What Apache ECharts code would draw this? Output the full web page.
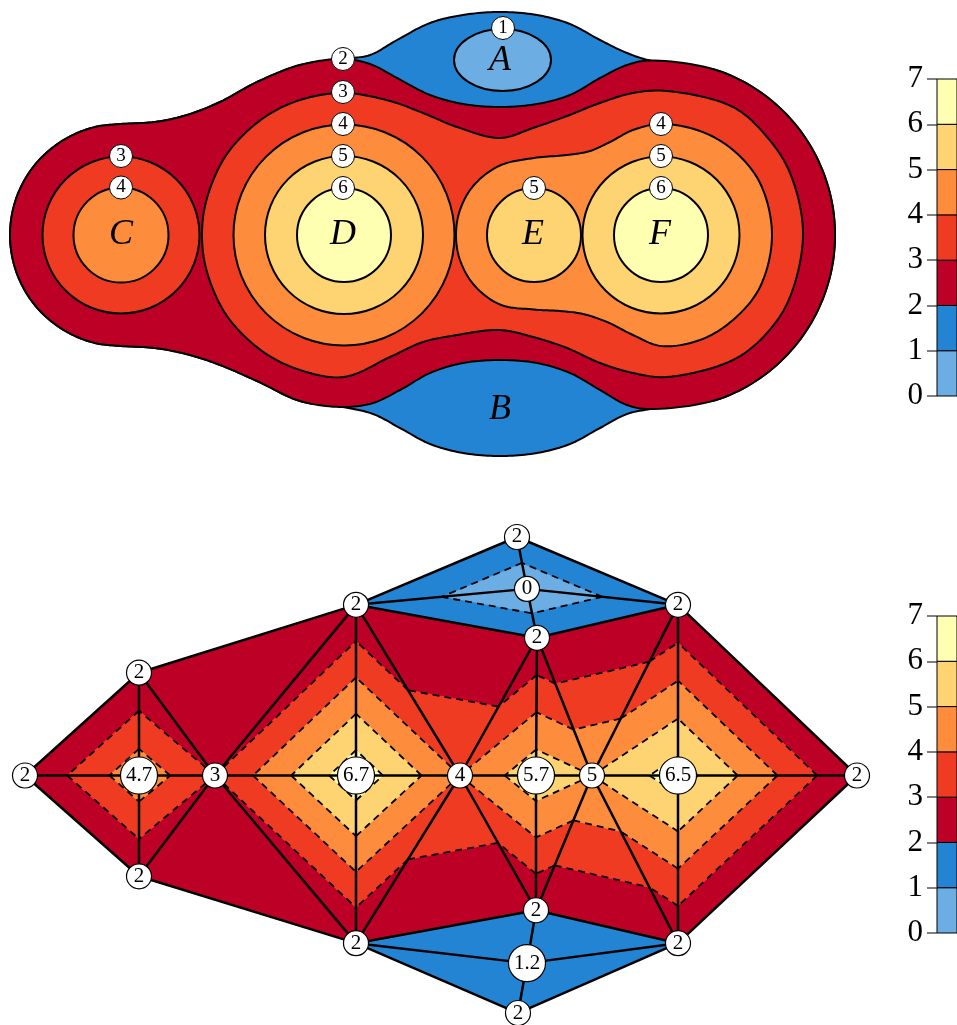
<!DOCTYPE html>
<html>
<head>
<meta charset="utf-8">
<script src="https://cdn.jsdelivr.net/npm/echarts/dist/echarts.min.js"></script>
<style>
html, body { margin: 0; padding: 0; background: #fff; }
#chart { width: 957px; height: 1025px; }
</style>
</head>
<body>
<div id="chart"></div>
<script>
// ---- colour classes, one per unit band 0-1 ... 6-7 ----
const bandColors = ['#6caee3', '#2484d4', '#bd0026', '#ef3b22', '#fd8c3c', '#fed473', '#ffffb2'];
const bandEdges = [0, 1, 2, 3, 4, 5, 6, 7];

// ---- upper panel: smooth field, contour outlines in panel units ----
const rimTop = [[1.0, 0], [1.4, 2.95], [2.5, 5.57], [4.2, 7.8], [6.7, 9.7], [9.5, 10.8], [12.1, 11.1],
  [15.5, 11.3], [18.7, 12.0], [22.0, 13.3], [25.7, 15.3], [30.0, 17.0], [34.3, 17.6]];
const bulgeA = [[37.0, 18.0], [39.7, 19.5], [43.0, 21.2], [46.3, 22.0], [50.0, 22.3], [53.7, 22.0],
  [57.0, 21.1], [60.0, 19.5], [62.7, 18.2]];
const troughA = [[37.0, 17.1], [39.7, 15.7], [43.0, 14.0], [46.3, 13.1], [50.0, 12.8], [53.7, 13.1],
  [57.0, 14.0], [60.0, 15.7], [62.7, 17.0]];
const rimEast = [[65.0, 17.45], [72.05, 16.35], [77.29, 13.33], [81.17, 8.7], [83.24, 3.02],
  [83.24, -3.02], [81.17, -8.7], [77.29, -13.33], [72.05, -16.35], [65.0, -17.4]];
const bulgeB = [[62.7, -17.9], [60.0, -19.3], [57.0, -20.9], [53.7, -21.8], [50.0, -22.1], [46.3, -21.8],
  [43.0, -20.9], [40.0, -19.3], [37.3, -17.9]];
const troughB = [[62.7, -17.0], [60.0, -15.5], [57.0, -13.8], [53.7, -12.8], [50.0, -12.5], [46.3, -12.8],
  [43.0, -13.8], [40.0, -15.5], [37.3, -16.8]];
const rimBottom = [[34.3, -17.2], [30.0, -16.6], [25.7, -14.6], [22.0, -13.0], [19.0, -12.0], [15.5, -11.3],
  [12.1, -11.1], [9.5, -10.8], [6.7, -9.7], [4.2, -7.8], [2.5, -5.57], [1.4, -2.95]];

// level-3 contour enclosing D, E and F
const level3Hills = [[34.4, 14.2], [39.0, 13.4], [42.3, 12.2], [45.7, 10.8], [50.0, 9.7], [53.3, 10.7],
  [56.7, 11.9], [60.0, 13.2], [63.3, 14.2], [66.7, 14.4], [73.3, 12.8], [76.7, 9.8], [79.0, 6.2],
  [80.3, 0.2], [79.0, -6.2], [76.7, -9.8], [73.3, -12.5], [66.7, -14.2], [63.3, -13.8], [60.0, -12.8],
  [56.7, -11.3], [53.3, -10.2], [50.0, -9.5], [45.7, -10.0], [42.3, -10.7], [39.0, -12.2], [34.4, -14.2],
  [30.0, -13.5], [26.2, -11.6], [22.7, -8.1], [20.7, -3.7], [20.2, 0], [20.7, 3.7], [22.7, 8.1],
  [26.2, 11.6], [30.0, 13.5]];
// level-4 contour enclosing E and F
const level4Hills = [[53.4, 7.7], [56.7, 8.0], [59.0, 8.4], [61.0, 9.3], [63.3, 10.5], [66.1, 11.1],
  [70.0, 10.4], [73.3, 8.5], [76.0, 5.2], [77.2, 0], [76.0, -5.2], [73.3, -8.5], [70.0, -10.5],
  [66.1, -11.1], [63.3, -10.0], [60.7, -8.7], [58.3, -7.9], [56.0, -7.6], [53.4, -7.45], [50.0, -6.95],
  [47.4, -5.0], [46.0, -2.5], [45.6, 0], [46.0, 2.5], [47.4, 5.0], [50.0, 6.95]];

// round contours: [centreX, centreY, radius, band inside]
const ringsC = [[12.1, 0, 7.85, 3], [12.1, 0, 4.75, 4]];
const ringsD4 = [[34.4, 0, 11.05, 4]];
const ringsInner = [[34.4, 0, 7.9, 5], [53.4, 0, 4.7, 5], [66.1, 0, 7.85, 5], [34.4, 0, 4.7, 6], [66.1, 0, 4.7, 6]];
// minimum A: [centreX, centreY, radiusX, radiusY]
const pitA = [50.25, 17.5, 4.85, 3.1];

// contour value tags [x, y, text]
const upperTags = [[50.3, 20.7, '1'], [34.3, 17.6, '2'], [34.3, 14.3, '3'], [34.3, 11.1, '4'], [34.3, 7.9, '5'],
  [34.3, 4.7, '6'], [12.1, 7.9, '3'], [12.1, 4.75, '4'], [53.4, 4.7, '5'], [66.1, 11.1, '4'],
  [66.1, 7.9, '5'], [66.1, 4.7, '6']];
const upperLetters = [[50.0, 17.4, 'A'], [50.0, -17.5, 'B'], [12.1, 0, 'C'], [34.3, 0, 'D'], [53.3, 0, 'E'], [66.0, 0, 'F']];

// ---- lower panel: triangulated samples ----
const nodeX = [0, 11.4, 11.4, 11.4, 19.0, 33.1, 33.1, 33.1, 43.5, 49.2, 50.2, 51.2, 51.1, 56.7, 51.1, 50.2, 49.3, 65.3, 65.3, 65.3, 83.2];
const nodeY = [0, 10.3, -10.1, 0, 0, 17.1, -16.8, 0, 0, 23.9, 18.7, 13.8, 0, 0, -13.5, -18.8, -23.8, 17.1, -16.8, 0, 0];
const nodeValue = [2, 2, 2, 4.7, 3, 2, 2, 6.7, 4, 2, 0, 2, 5.7, 5, 2, 1.2, 2, 2, 2, 6.5, 2];
const triangles = [
  [0, 1, 3], [1, 4, 3], [4, 2, 3], [2, 0, 3],
  [1, 5, 4], [2, 4, 6],
  [4, 5, 7], [5, 8, 7], [8, 6, 7], [6, 4, 7],
  [5, 9, 10], [9, 17, 10], [5, 10, 11], [10, 17, 11],
  [5, 11, 8], [11, 12, 8], [11, 13, 12], [11, 17, 13],
  [6, 8, 14], [8, 12, 14], [12, 13, 14], [14, 13, 18],
  [6, 14, 15], [14, 18, 15], [6, 15, 16], [15, 18, 16],
  [13, 17, 19], [13, 19, 18], [17, 20, 19], [19, 20, 18]
];

// ---- piecewise-linear banding of each triangle ----
function clipBy(poly, level, keepAbove) {
  const out = [];
  for (let i = 0; i < poly.length; i++) {
    const a = poly[i], b = poly[(i + 1) % poly.length];
    const ina = keepAbove ? a.v >= level : a.v <= level;
    const inb = keepAbove ? b.v >= level : b.v <= level;
    if (ina) out.push(a);
    if (ina !== inb) {
      const t = (level - a.v) / (b.v - a.v);
      out.push({ x: a.x + t * (b.x - a.x), y: a.y + t * (b.y - a.y), v: level });
    }
  }
  return out;
}
const vertex = i => ({ x: nodeX[i], y: nodeY[i], v: nodeValue[i] });
const bandPolys = [];
const isoSegments = [];
triangles.forEach(tri => {
  const pts = tri.map(vertex);
  for (let k = 0; k < bandColors.length; k++) {
    const p = clipBy(clipBy(pts, bandEdges[k], true), bandEdges[k + 1], false);
    if (p.length >= 3) bandPolys.push({ band: k, pts: p.map(q => [q.x, q.y]) });
  }
  const vs = pts.map(p => p.v);
  const lo = Math.min(...vs), hi = Math.max(...vs);
  for (let L = 1; L < 7; L++) {
    if (!(lo < L && L < hi)) continue;
    const cut = [];
    for (let i = 0; i < 3; i++) {
      const a = pts[i], b = pts[(i + 1) % 3];
      if (a.v === L) cut.push([a.x, a.y]);
      else if ((a.v - L) * (b.v - L) < 0) {
        const t = (L - a.v) / (b.v - a.v);
        cut.push([a.x + t * (b.x - a.x), a.y + t * (b.y - a.y)]);
      }
    }
    if (cut.length === 2) isoSegments.push(cut);
  }
});
const edgeSet = {};
const meshEdges = [];
triangles.forEach(tri => {
  for (let i = 0; i < 3; i++) {
    const a = tri[i], b = tri[(i + 1) % 3];
    const key = Math.min(a, b) + '-' + Math.max(a, b);
    if (!edgeSet[key]) { edgeSet[key] = true; meshEdges.push([a, b]); }
  }
});

// ---- closed centripetal Catmull-Rom through outline vertices (screen space) ----
function smoothLoop(pts, steps) {
  const m = pts.length, out = [];
  const knot = (a, b) => Math.max(Math.sqrt(Math.hypot(b[0] - a[0], b[1] - a[1])), 1e-6);
  for (let i = 0; i < m; i++) {
    const p0 = pts[(i - 1 + m) % m], p1 = pts[i], p2 = pts[(i + 1) % m], p3 = pts[(i + 2) % m];
    const t0 = 0, t1 = t0 + knot(p0, p1), t2 = t1 + knot(p1, p2), t3 = t2 + knot(p2, p3);
    for (let s = 0; s < steps; s++) {
      const t = t1 + (t2 - t1) * s / steps;
      const mix = (a, b, ta, tb) => [0, 1].map(k => ((tb - t) * a[k] + (t - ta) * b[k]) / (tb - ta));
      const A1 = mix(p0, p1, t0, t1), A2 = mix(p1, p2, t1, t2), A3 = mix(p2, p3, t2, t3);
      const B1 = mix(A1, A2, t0, t2), B2 = mix(A2, A3, t1, t3);
      out.push(mix(B1, B2, t1, t2));
    }
  }
  return out;
}

// ---- drawing list for the upper panel (painter's order) ----
const upperShapes = [];
upperShapes.push({ kind: 'poly', pts: [...rimTop, ...bulgeA, ...rimEast, ...bulgeB, ...rimBottom], band: 1 });
upperShapes.push({ kind: 'poly', pts: [...rimTop, ...troughA, ...rimEast, ...troughB, ...rimBottom], band: 2 });
upperShapes.push({ kind: 'ellipse', c: [pitA[0], pitA[1]], rx: pitA[2], ry: pitA[3], band: 0 });
upperShapes.push({ kind: 'circle', c: [ringsC[0][0], ringsC[0][1]], r: ringsC[0][2], band: ringsC[0][3] });
upperShapes.push({ kind: 'poly', pts: level3Hills, band: 3 });
upperShapes.push({ kind: 'circle', c: [ringsC[1][0], ringsC[1][1]], r: ringsC[1][2], band: ringsC[1][3] });
upperShapes.push({ kind: 'circle', c: [ringsD4[0][0], ringsD4[0][1]], r: ringsD4[0][2], band: ringsD4[0][3] });
upperShapes.push({ kind: 'poly', pts: level4Hills, band: 4 });
ringsInner.forEach(r => upperShapes.push({ kind: 'circle', c: [r[0], r[1]], r: r[2], band: r[3] }));

const serif = 'Liberation Serif';

function renderUpper(params, api) {
  const s = upperShapes[params.dataIndex];
  const style = { fill: bandColors[s.band], stroke: '#000', lineWidth: 2 };
  const z2 = params.dataIndex;
  if (s.kind === 'poly') {
    return { type: 'polygon', z2, shape: { points: smoothLoop(s.pts.map(p => api.coord(p)), 12) }, style };
  }
  const c = api.coord(s.c);
  if (s.kind === 'circle') {
    return { type: 'circle', z2, shape: { cx: c[0], cy: c[1], r: api.size([s.r, 0])[0] }, style };
  }
  const sz = api.size([s.rx, s.ry]);
  return { type: 'ellipse', z2, shape: { cx: c[0], cy: c[1], rx: sz[0], ry: sz[1] }, style };
}

function renderBand(params, api) {
  const b = bandPolys[params.dataIndex];
  const col = bandColors[b.band];
  return { type: 'polygon', shape: { points: b.pts.map(p => api.coord(p)) },
    style: { fill: col, stroke: col, lineWidth: 0.8 } };
}
function renderIso(params, api) {
  const s = isoSegments[params.dataIndex];
  const a = api.coord(s[0]), b = api.coord(s[1]);
  return { type: 'line', shape: { x1: a[0], y1: a[1], x2: b[0], y2: b[1] },
    style: { stroke: '#000', lineWidth: 1.8, lineDash: [7, 5] } };
}
function renderEdge(params, api) {
  const e = meshEdges[params.dataIndex];
  const a = api.coord([nodeX[e[0]], nodeY[e[0]]]), b = api.coord([nodeX[e[1]], nodeY[e[1]]]);
  return { type: 'line', shape: { x1: a[0], y1: a[1], x2: b[0], y2: b[1] },
    style: { stroke: '#000', lineWidth: 2.5, lineCap: 'round' } };
}
function renderKey(params, api) {
  const k = api.value(1);
  const p0 = api.coord([0, k + 1]), p1 = api.coord([1, k]);
  return { type: 'rect', shape: { x: p0[0], y: p0[1], width: p1[0] - p0[0], height: p1[1] - p0[1] },
    style: { fill: bandColors[k], stroke: '#000', lineWidth: 1 } };
}

const keyAxis = gi => ({
  gridIndex: gi, type: 'value', min: 0, max: 7, interval: 1,
  axisLine: { show: false },
  axisTick: { show: true, length: 10, lineStyle: { color: '#555', width: 1.5 } },
  axisLabel: { fontFamily: serif, fontSize: 31, color: '#000', margin: 14 },
  splitLine: { show: false }
});
const hiddenX = (gi, max) => ({ gridIndex: gi, type: 'value', min: 0, max, show: false });

const tagStyle = { color: '#fff', borderColor: '#000', borderWidth: 1, opacity: 1 };

const option = {
  animation: false,
  backgroundColor: '#fff',
  grid: [
    { left: 0, top: 5, width: 850, height: 460 },
    { left: 25, top: 526, width: 832, height: 500 },
    { left: 937, top: 79, width: 60, height: 317 },
    { left: 937, top: 616, width: 60, height: 317 }
  ],
  xAxis: [hiddenX(0, 85), hiddenX(1, 83.2), hiddenX(2, 1), hiddenX(3, 1)],
  yAxis: [
    { gridIndex: 0, type: 'value', min: -23, max: 23, show: false },
    { gridIndex: 1, type: 'value', min: -25, max: 25, show: false },
    keyAxis(2), keyAxis(3)
  ],
  series: [
    { type: 'custom', xAxisIndex: 0, yAxisIndex: 0, z: 2, silent: true,
      data: upperShapes.map(() => [0, 0]), renderItem: renderUpper },
    { type: 'scatter', xAxisIndex: 0, yAxisIndex: 0, z: 5, silent: true,
      data: upperTags, symbol: 'circle', symbolSize: 23,
      itemStyle: tagStyle,
      label: { show: true, position: 'inside', formatter: p => p.value[2],
        fontFamily: serif, fontSize: 19, color: '#000', opacity: 1 } },
    { type: 'scatter', xAxisIndex: 0, yAxisIndex: 0, z: 5, silent: true,
      data: upperLetters, symbol: 'circle', symbolSize: 1,
      itemStyle: { color: 'rgba(0,0,0,0)', opacity: 1 },
      label: { show: true, position: 'inside', formatter: p => p.value[2],
        fontFamily: serif, fontStyle: 'italic', fontSize: 36, color: '#000', opacity: 1 } },

    { type: 'custom', xAxisIndex: 1, yAxisIndex: 1, z: 2, silent: true,
      data: bandPolys.map(() => [0, 0]), renderItem: renderBand },
    { type: 'custom', xAxisIndex: 1, yAxisIndex: 1, z: 3, silent: true,
      data: isoSegments.map(() => [0, 0]), renderItem: renderIso },
    { type: 'custom', xAxisIndex: 1, yAxisIndex: 1, z: 4, silent: true,
      data: meshEdges.map(() => [0, 0]), renderItem: renderEdge },
    { type: 'scatter', xAxisIndex: 1, yAxisIndex: 1, z: 5, silent: true,
      data: nodeX.map((x, i) => [x, nodeY[i], nodeValue[i]]),
      symbol: 'circle',
      symbolSize: v => (Number.isInteger(v[2]) ? 25 : 37),
      itemStyle: { color: '#fff', borderColor: '#000', borderWidth: 1.2, opacity: 1 },
      label: { show: true, position: 'inside', formatter: p => String(p.value[2]),
        fontFamily: serif, fontSize: 21, color: '#000', opacity: 1 } },

    { type: 'custom', xAxisIndex: 2, yAxisIndex: 2, silent: true,
      data: bandEdges.slice(0, 7).map(k => [0, k]), renderItem: renderKey },
    { type: 'custom', xAxisIndex: 3, yAxisIndex: 3, silent: true,
      data: bandEdges.slice(0, 7).map(k => [0, k]), renderItem: renderKey }
  ]
};

const chart = echarts.init(document.getElementById('chart'));
chart.setOption(option);
</script>
</body>
</html>
